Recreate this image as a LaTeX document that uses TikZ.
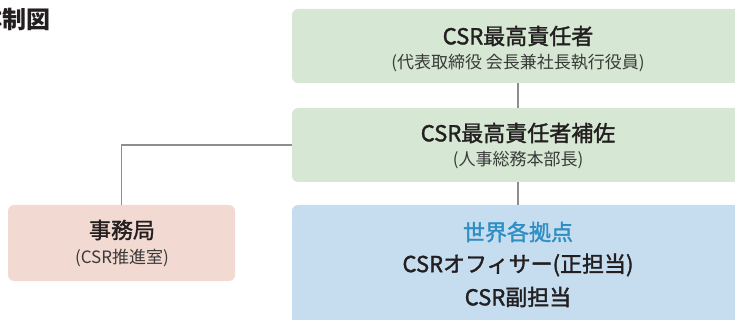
\documentclass[tikz,border=0pt]{standalone}
\usepackage{fontspec}
\setmainfont{Noto Sans CJK JP}
\newfontfamily\medfont{Noto Sans CJK JP}[FakeBold=1.6]
\definecolor{gfill}{HTML}{D6E8D3}
\definecolor{pfill}{HTML}{F2D9D1}
\definecolor{bfill}{HTML}{C6DCEF}
\definecolor{lcol}{HTML}{8E8E8E}
\definecolor{tcol}{HTML}{231F20}
\definecolor{scol}{HTML}{3A3A3A}
\definecolor{hblue}{HTML}{2E8FC4}
\tikzset{
  box/.style={rounded corners=6pt, draw=none, inner sep=0pt},
  big/.style={font=\fontsize{22}{26}\selectfont\medfont, text=tcol, inner sep=0pt},
  small/.style={font=\fontsize{17}{20}\selectfont, text=scol, inner sep=0pt},
  conn/.style={draw=lcol, line width=1.4pt},
}
\begin{document}
\begin{tikzpicture}[x=1pt,y=-1pt]
\useasboundingbox (0,0) rectangle (735,320);
\node[anchor=east, font=\fontsize{24}{28}\selectfont\bfseries, text=tcol, inner sep=0pt] (title) at (51,19) {体制図};
\node[box, fill=gfill, minimum width=452pt, minimum height=74pt] (ceo) at (518,46) {};
\node[big] (ceot) at (518,36) {CSR最高責任者};
\node[small] (ceos) at (518,63) {(代表取締役 会長兼社長執行役員)};
\node[box, fill=gfill, minimum width=452pt, minimum height=74pt] (dep) at (518,145) {};
\node[big] (dept) at (518,133) {CSR最高責任者補佐};
\node[small] (deps) at (518,160) {(人事総務本部長)};
\node[box, fill=pfill, minimum width=227pt, minimum height=76pt] (sec) at (121.5,243) {};
\node[big] (sect) at (122,230) {事務局};
\node[small] (secs) at (122,258) {(CSR推進室)};
\node[box, fill=bfill, minimum width=452pt, minimum height=140pt] (glob) at (518,275) {};
\node[big, text=hblue] (globt) at (518,232) {世界各拠点};
\node[big] (globa) at (518,265) {CSRオフィサー(正担当)};
\node[big] (globb) at (518,297) {CSR副担当};
\coordinate (corner) at (sec.north |- dep.west);
\draw[conn] (ceo.south) -- (dep.north);
\draw[conn] (dep.south) -- (glob.north);
\draw[conn] (dep.west) -- (corner) -- (sec.north);
\end{tikzpicture}
\end{document}
